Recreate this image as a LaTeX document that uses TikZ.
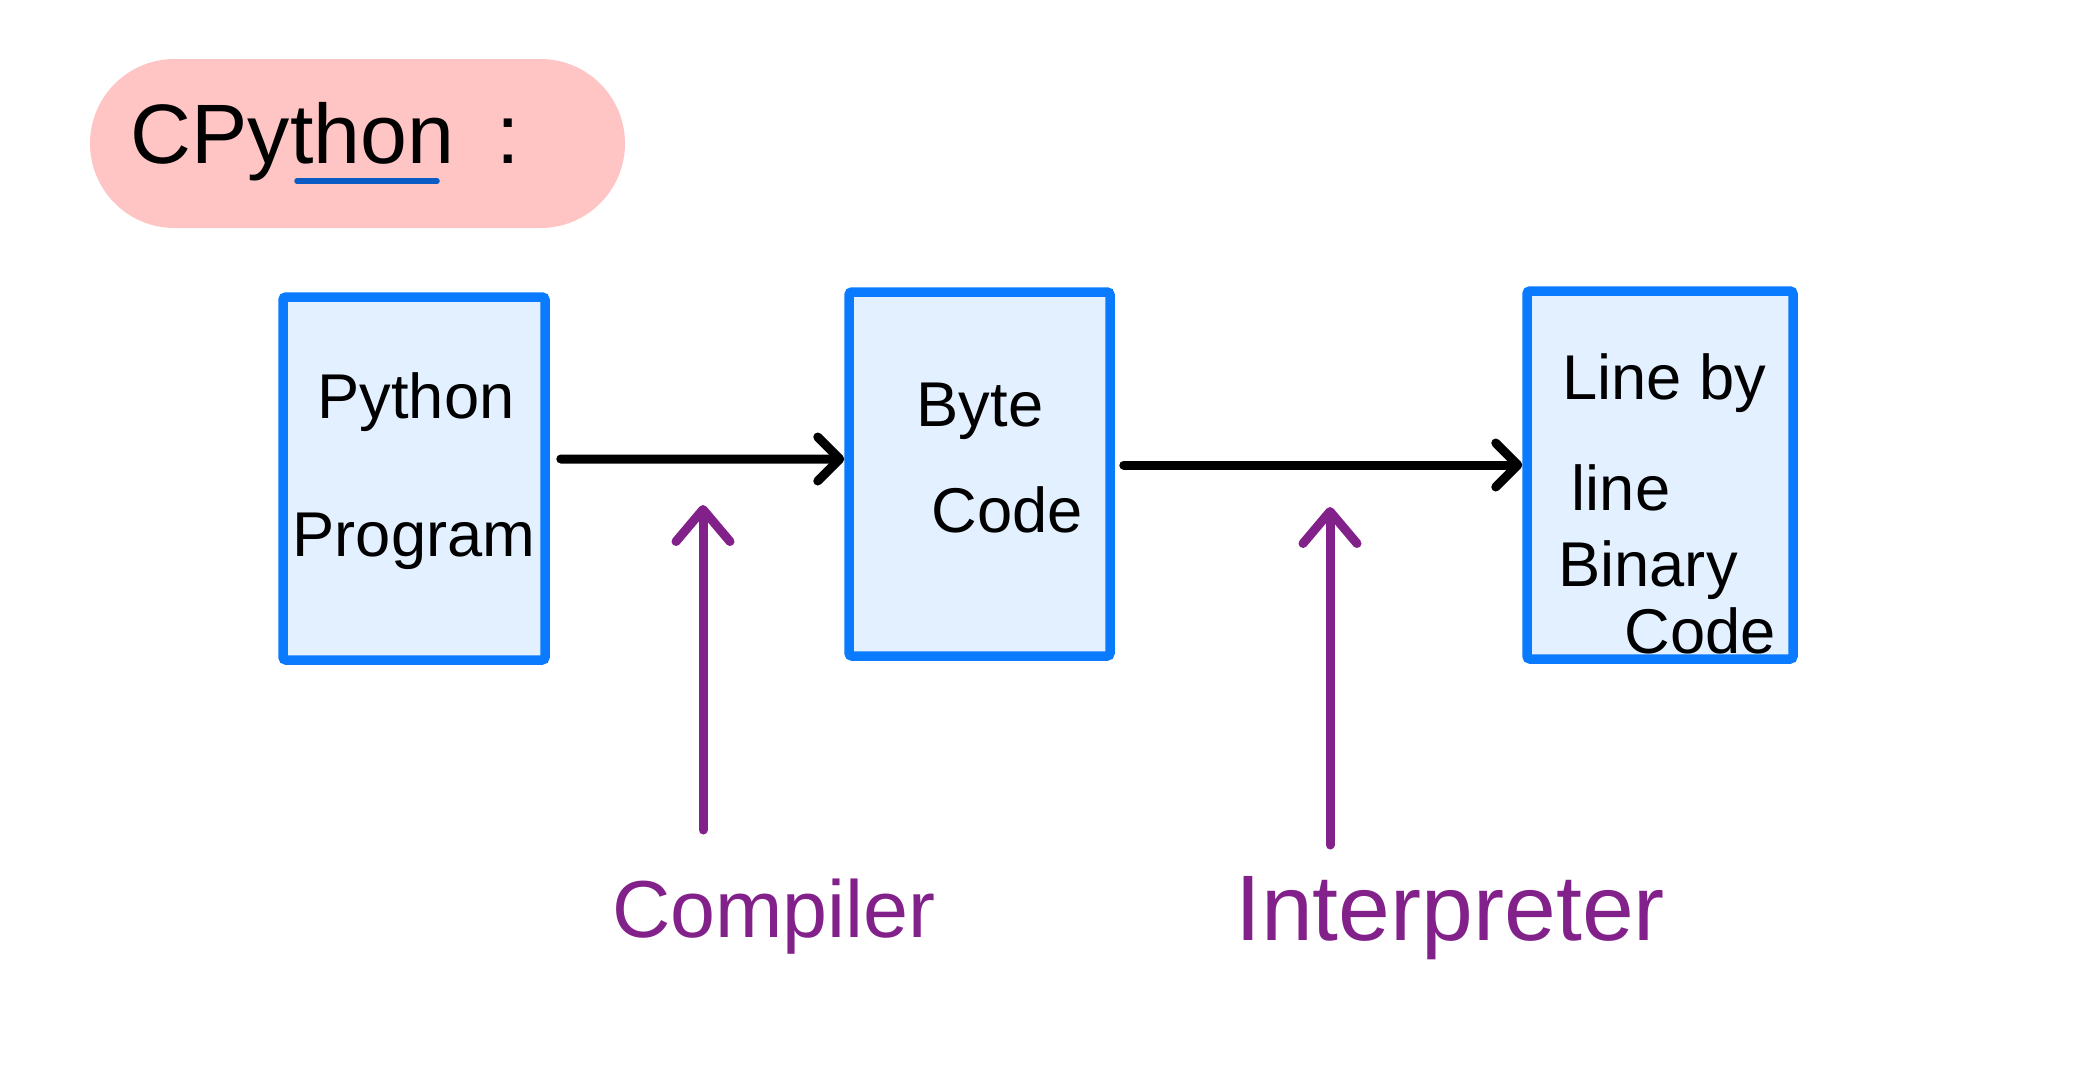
\documentclass[tikz,border=0pt]{standalone}
\usepackage{fontspec}
\setmainfont{Liberation Sans}
\usetikzlibrary{arrows.meta}
\definecolor{boxblue}{RGB}{10,123,255}
\definecolor{boxfill}{RGB}{227,240,255}
\definecolor{pillpink}{RGB}{255,196,196}
\definecolor{lblpurple}{RGB}{131,33,139}
\definecolor{ulblue}{RGB}{10,92,196}
\tikzset{
  stagebox/.style={draw=boxblue, fill=boxfill, line width=0.95mm, rounded corners=0.3mm, inner sep=0pt},
  boxtxt/.style={anchor=base, inner sep=0pt, font=\fontsize{18}{20}\selectfont, text=black},
  lbltxt/.style={anchor=base, inner sep=0pt, font=\fontsize{23}{26}\selectfont, text=lblpurple},
  flowarr/.style={draw=black, line width=0.9mm, line cap=round, -{Straight Barb[round,length=2.2mm,width=4.4mm]}},
  toolarr/.style={draw=lblpurple, line width=0.9mm, line cap=round, -{Straight Barb[round,length=3.2mm,width=5.4mm]}},
}
\begin{document}
\begin{tikzpicture}[x=0.1mm,y=-0.1mm]
\useasboundingbox (0,0) rectangle (2100,1081);
% title pill
\node[fill=pillpink, rounded corners=8.45mm, minimum width=53.5mm, minimum height=16.9mm, inner sep=0pt] (pill) at (357.5,143.5) {};
\node[anchor=base west, inner sep=0pt, font=\fontsize{24}{28}\selectfont] (title) at (130,163) {CPython\hspace{4.2mm}:};
\draw[ulblue, line width=0.55mm, line cap=round] (297,181) -- (437,181);
% boxes
\node[stagebox, minimum width=26.2mm, minimum height=36.3mm] (b1) at (414,478.5) {};
\node[stagebox, minimum width=26.1mm, minimum height=36.4mm] (b2) at (979.5,474) {};
\node[stagebox, minimum width=26.6mm, minimum height=36.8mm] (b3) at (1660,475) {};
% box texts
\node[boxtxt] (t1a) at (416,418) {Python};
\node[boxtxt] (t1b) at (414,556) {Program};
\node[boxtxt] (t2a) at (980,426) {Byte};
\node[boxtxt] (t2b) at (1007,532) {Code};
\node[boxtxt] (t3a) at (1664,399) {Line by};
\node[boxtxt] (t3b) at (1621,510) {line};
\node[boxtxt] (t3c) at (1648,586) {Binary};
\node[boxtxt] (t3d) at (1700,653) {Code};
% flow arrows
\draw[flowarr] ([xshift=1.1mm,yshift=1.95mm]b1.east) -- ([yshift=1.5mm]b2.west);
\draw[flowarr] ([xshift=0.9mm,yshift=0.9mm]b2.east) -- ([yshift=1mm]b3.west);
% tool labels and arrows
\node[lbltxt] (comp) at (774,937) {Compiler};
\node[lbltxt, font=\fontsize{26.5}{30}\selectfont] (interp) at (1450,940) {Interpreter};
\coordinate (cbot) at (703,830);
\coordinate (ctop) at (703,505);
\coordinate (ibot) at (1330,845);
\coordinate (itop) at (1330,507);
\draw[toolarr] (cbot) -- (ctop);
\draw[toolarr] (ibot) -- (itop);
\end{tikzpicture}
\end{document}
